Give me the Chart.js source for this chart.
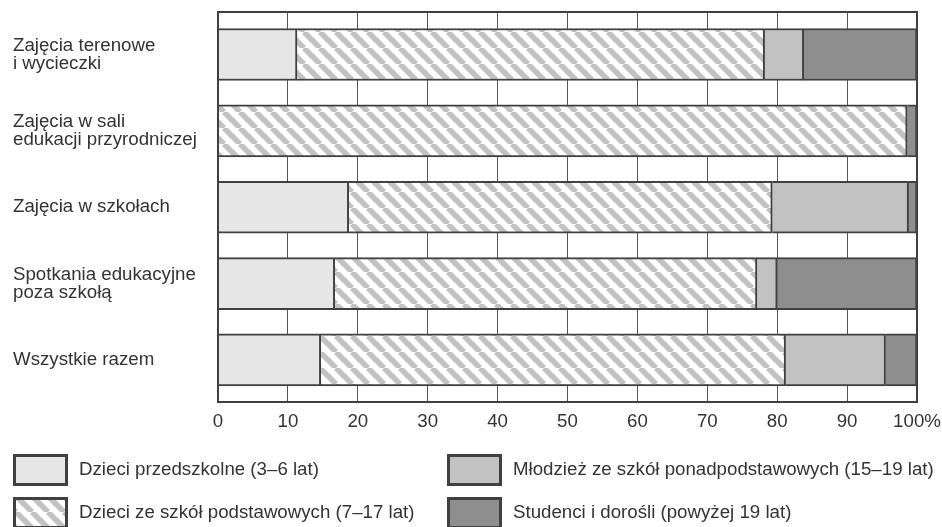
<!DOCTYPE html>
<html>
<head>
<meta charset="utf-8">
<script src="https://cdn.jsdelivr.net/npm/chart.js@4.4.1/dist/chart.umd.min.js"></script>
<style>
    body { margin: 0; background: #fff; }
</style>
</head>
<body>
<canvas id="myChart" width="942" height="527"></canvas>
<script>
// categories (top to bottom) and series, values in %
const categories = [
    ['Zajęcia terenowe', 'i wycieczki'],
    ['Zajęcia w sali', 'edukacji przyrodniczej'],
    'Zajęcia w szkołach',
    ['Spotkania edukacyjne', 'poza szkołą'],
    'Wszystkie razem'
];
const seriesNames = [
    'Dzieci przedszkolne (3–6 lat)',
    'Dzieci ze szkół podstawowych (7–17 lat)',
    'Młodzież ze szkół ponadpodstawowych (15–19 lat)',
    'Studenci i dorośli (powyżej 19 lat)'
];
const preschool = [11.3, 0, 18.7, 16.7, 14.7];
const primary = [66.9, 98.6, 60.6, 60.4, 66.5];
const secondary = [5.6, 0, 19.5, 2.9, 14.3];
const adults = [16.2, 1.4, 1.2, 20.0, 4.5];
const xTickLabels = ['0', '10', '20', '30', '40', '50', '60', '70', '80', '90', '100%'];

const ctx = document.getElementById('myChart').getContext('2d');

const makeHatch = () => {
    const p = 16;
    const c = document.createElement('canvas');
    c.width = p;
    c.height = p;
    const g = c.getContext('2d');
    g.fillStyle = '#ffffff';
    g.fillRect(0, 0, p, p);
    g.strokeStyle = '#c2c2c2';
    g.lineWidth = 5.6;
    g.beginPath();
    for (let k = -1; k <= 1; k++) {
        g.moveTo(k * p, 0);
        g.lineTo(k * p + p, p);
    }
    g.stroke();
    return ctx.createPattern(c, 'repeat');
};

const fills = ['#e6e6e6', makeHatch(), '#c2c2c2', '#8e8e8e'];
const values = [preschool, primary, secondary, adults];
const edge = '#404040';
const textColor = '#333333';
const font = { family: 'Liberation Sans, Arial, sans-serif', size: 18.7 };

const framePlugin = {
    id: 'frame',
    afterDatasetsDraw(chart) {
        const { ctx, chartArea: a } = chart;
        ctx.save();
        ctx.strokeStyle = edge;
        ctx.lineWidth = 2;
        ctx.strokeRect(a.left, a.top, a.right - a.left, a.bottom - a.top);
        ctx.restore();
    }
};

// two-column legend under the plot, column by column
const legendPlugin = {
    id: 'sideLegend',
    afterDraw(chart) {
        const { ctx, chartArea: a } = chart;
        const rows = [[0, 2], [1, 3]];
        const colX = [13, 447];
        const rowTop = [a.bottom + 52, a.bottom + 95];
        ctx.save();
        ctx.font = font.size + 'px ' + font.family;
        ctx.textBaseline = 'middle';
        rows.forEach((row, r) => {
            row.forEach((i, c) => {
                const ds = chart.data.datasets[i];
                const x = colX[c], y = rowTop[r];
                ctx.fillStyle = ds.backgroundColor;
                ctx.fillRect(x, y, 55, 32);
                ctx.strokeStyle = edge;
                ctx.lineWidth = 3;
                ctx.strokeRect(x + 1.5, y + 1.5, 52, 29);
                ctx.fillStyle = textColor;
                ctx.fillText(ds.label, x + 66, y + 16);
            });
        });
        ctx.restore();
    }
};

const data = {
    labels: categories,
    datasets: values.map((v, i) => ({
        label: seriesNames[i],
        data: v,
        backgroundColor: fills[i],
        borderColor: edge,
        borderWidth: 2,
        borderSkipped: 'start',
        barThickness: 52
    }))
};

const config = {
    type: 'bar',
    data: data,
    options: {
        indexAxis: 'y',
        responsive: false,
        animation: false,
        layout: { padding: { top: 12, right: 25, left: 13, bottom: 0 } },
        plugins: {
            legend: { display: false },
            tooltip: { enabled: false }
        },
        scales: {
            x: {
                stacked: true,
                min: 0,
                max: 100,
                ticks: {
                    stepSize: 10,
                    autoSkip: false,
                    maxRotation: 0,
                    padding: 9,
                    color: textColor,
                    font: font,
                    callback: (v, i) => xTickLabels[i]
                },
                grid: { color: '#555555', lineWidth: 1, drawTicks: false },
                border: { display: false },
                afterFit: s => {
                    s.height = 125;
                    s.paddingLeft = 0;
                    s.paddingRight = 0;
                }
            },
            y: {
                stacked: true,
                grid: { display: false, drawTicks: false },
                border: { display: false },
                ticks: {
                    crossAlign: 'far',
                    padding: 0,
                    color: textColor,
                    font: { family: font.family, size: 18.7, lineHeight: 0.97 }
                },
                afterFit: s => { s.width = 205; },
                afterBuildTicks: s => { s._startValue = -0.557; s._valueRange = 5.108; }
            }
        }
    },
    plugins: [framePlugin, legendPlugin]
};

new Chart(ctx, config);
</script>
</body>
</html>
